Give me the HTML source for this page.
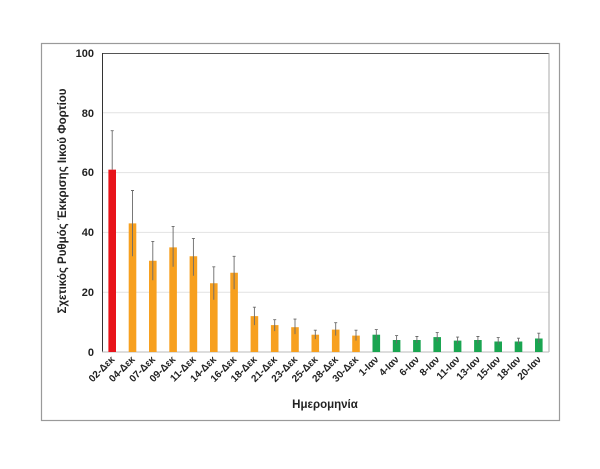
<!DOCTYPE html>
<html><head><meta charset="utf-8"><style>body{margin:0;background:#fff}</style></head><body>
<svg width="600" height="464" xmlns="http://www.w3.org/2000/svg" font-family="'Liberation Sans', 'DejaVu Sans', sans-serif">
<rect x="0" y="0" width="600" height="464" fill="#fff"/>
<rect x="41.5" y="43.5" width="518" height="377" fill="none" stroke="#9a9a9a" stroke-width="1.2"/>
<g stroke="#e2e2e2" stroke-width="1">
<line x1="102" x2="549" y1="292.2" y2="292.2"/><line x1="102" x2="549" y1="232.4" y2="232.4"/>
<line x1="102" x2="549" y1="172.6" y2="172.6"/><line x1="102" x2="549" y1="112.8" y2="112.8"/>
</g>
<line x1="102" x2="549" y1="53.5" y2="53.5" stroke="#555" stroke-width="1"/>
<line x1="549" x2="549" y1="53" y2="352" stroke="#aaa" stroke-width="1"/>
<line x1="102.5" x2="102.5" y1="53" y2="352" stroke="#333" stroke-width="1"/>
<line x1="102" x2="549" y1="352" y2="352" stroke="#bbb" stroke-width="1"/>
<g font-size="11" font-weight="bold" fill="#222" text-anchor="end">
<text x="94" y="356">0</text><text x="94" y="296">20</text><text x="94" y="236">40</text><text x="94" y="176">60</text><text x="94" y="117">80</text><text x="94" y="57">100</text>
</g>
<g stroke-width="7.6">
<line x1="112.2" x2="112.2" y1="169.6" y2="352" stroke="#e8141a"/>
<g stroke="#f7a01f">
<line x1="132.5" x2="132.5" y1="223.4" y2="352"/>
<line x1="152.8" x2="152.8" y1="260.8" y2="352"/>
<line x1="173.1" x2="173.1" y1="247.4" y2="352"/>
<line x1="193.4" x2="193.4" y1="256.3" y2="352"/>
<line x1="213.8" x2="213.8" y1="283.2" y2="352"/>
<line x1="234.1" x2="234.1" y1="272.8" y2="352"/>
<line x1="254.4" x2="254.4" y1="316.1" y2="352"/>
<line x1="274.7" x2="274.7" y1="325.1" y2="352"/>
<line x1="295.0" x2="295.0" y1="327.2" y2="352"/>
<line x1="315.3" x2="315.3" y1="334.7" y2="352"/>
<line x1="335.7" x2="335.7" y1="329.6" y2="352"/>
<line x1="356.0" x2="356.0" y1="335.6" y2="352"/>
</g>
<g stroke="#1aa551">
<line x1="376.3" x2="376.3" y1="334.7" y2="352"/>
<line x1="396.6" x2="396.6" y1="340.0" y2="352"/>
<line x1="416.9" x2="416.9" y1="340.0" y2="352"/>
<line x1="437.2" x2="437.2" y1="337.1" y2="352"/>
<line x1="457.6" x2="457.6" y1="340.6" y2="352"/>
<line x1="477.9" x2="477.9" y1="340.0" y2="352"/>
<line x1="498.2" x2="498.2" y1="341.5" y2="352"/>
<line x1="518.5" x2="518.5" y1="341.5" y2="352"/>
<line x1="538.8" x2="538.8" y1="338.5" y2="352"/>
</g>
</g>
<g stroke="#6a6a6a" stroke-width="0.9" fill="none">
<path d="M112.2 130.7V169.6M110.7 130.7h3"/>
<path d="M132.5 190.5V256.3M131 190.5h3"/>
<path d="M152.8 241.4V280.2M151.3 241.4h3"/>
<path d="M173.1 226.4V266.8M171.6 226.4h3"/>
<path d="M193.4 238.4V275.8M191.9 238.4h3"/>
<path d="M213.8 266.8V299.7M212.3 266.8h3"/>
<path d="M234.1 256.3V289.2M232.6 256.3h3"/>
<path d="M254.4 307.2V325.1M252.9 307.2h3"/>
<path d="M274.7 319.7V331.1M273.2 319.7h3"/>
<path d="M295.0 319.1V334.1M293.5 319.1h3"/>
<path d="M315.3 330.2V339.1M313.8 330.2h3"/>
<path d="M335.7 322.7V335.6M334.2 322.7h3"/>
<path d="M356.0 330.2V340.6M354.5 330.2h3"/>
<path d="M376.3 329.6V340M374.8 329.6h3"/>
<path d="M396.6 335.6V343.6M395.1 335.6h3"/>
<path d="M416.9 336.5V343M415.4 336.5h3"/>
<path d="M437.2 332.6V341.5M435.7 332.6h3"/>
<path d="M457.6 337.1V343.6M456.1 337.1h3"/>
<path d="M477.9 336.5V343.6M476.4 336.5h3"/>
<path d="M498.2 337.6V344.5M496.7 337.6h3"/>
<path d="M518.5 338.2V344.2M517 338.2h3"/>
<path d="M538.8 333.2V343M537.3 333.2h3"/>
</g>
<g font-size="10" font-weight="bold" fill="#222" text-anchor="end">
<text transform="translate(115.2,360) rotate(-45)">02-Δεκ</text>
<text transform="translate(135.5,360) rotate(-45)">04-Δεκ</text>
<text transform="translate(155.8,360) rotate(-45)">07-Δεκ</text>
<text transform="translate(176.1,360) rotate(-45)">09-Δεκ</text>
<text transform="translate(196.4,360) rotate(-45)">11-Δεκ</text>
<text transform="translate(216.8,360) rotate(-45)">14-Δεκ</text>
<text transform="translate(237.1,360) rotate(-45)">16-Δεκ</text>
<text transform="translate(257.4,360) rotate(-45)">18-Δεκ</text>
<text transform="translate(277.7,360) rotate(-45)">21-Δεκ</text>
<text transform="translate(298.0,360) rotate(-45)">23-Δεκ</text>
<text transform="translate(318.3,360) rotate(-45)">25-Δεκ</text>
<text transform="translate(338.7,360) rotate(-45)">28-Δεκ</text>
<text transform="translate(359.0,360) rotate(-45)">30-Δεκ</text>
<text transform="translate(379.3,360) rotate(-45)">1-Ιαν</text>
<text transform="translate(399.6,360) rotate(-45)">4-Ιαν</text>
<text transform="translate(419.9,360) rotate(-45)">6-Ιαν</text>
<text transform="translate(440.2,360) rotate(-45)">8-Ιαν</text>
<text transform="translate(460.6,360) rotate(-45)">11-Ιαν</text>
<text transform="translate(480.9,360) rotate(-45)">13-Ιαν</text>
<text transform="translate(501.2,360) rotate(-45)">15-Ιαν</text>
<text transform="translate(521.5,360) rotate(-45)">18-Ιαν</text>
<text transform="translate(541.8,360) rotate(-45)">20-Ιαν</text>
</g>
<text x="325" y="408" font-size="11.5" font-weight="bold" text-anchor="middle" fill="#222">Ημερομηνία</text>
<text transform="translate(66,201) rotate(-90)" font-size="11.5" font-weight="bold" text-anchor="middle" fill="#222">Σχετικός Ρυθμός Έκκρισης Ιικού Φορτίου</text>
</svg>
</body></html>
